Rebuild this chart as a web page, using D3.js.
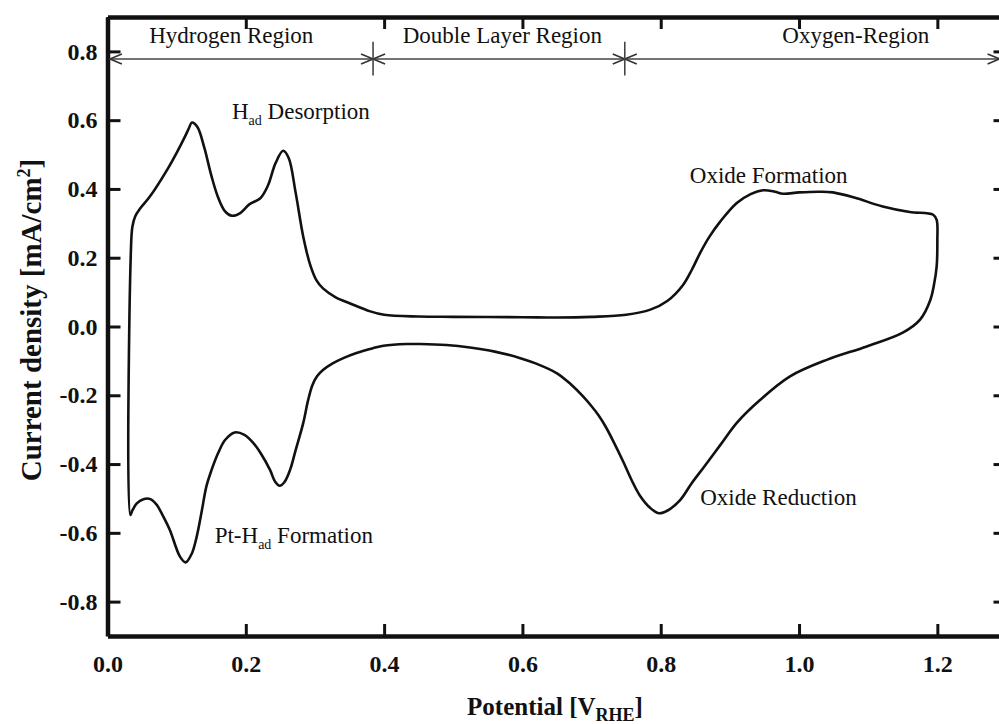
<!DOCTYPE html>
<html>
<head>
<meta charset="utf-8">
<script src="https://cdn.jsdelivr.net/npm/d3@7"></script>
<style>
  body { margin: 0; background: #fff; }
  svg { display: block; font-family: "Liberation Serif", "Times New Roman", serif; }
  .axis .domain { stroke: #111; stroke-width: 4.5px; }
  .axis .tick line { stroke: #111; stroke-width: 3px; }
  .axis .tick text { font-size: 24px; font-weight: bold; fill: #111; }
  .note { font-size: 23px; fill: #111; }
  .region-line { stroke: #444; stroke-width: 1.6px; fill: none; }
</style>
</head>
<body>
<div id="chart"></div>
<script>
// tick values
const xTicks = [0.0, 0.2, 0.4, 0.6, 0.8, 1.0, 1.2];
const yTicks = [-0.8, -0.6, -0.4, -0.2, 0.0, 0.2, 0.4, 0.6, 0.8];

// regions along the top
const regionNames = ['Hydrogen Region', 'Double Layer Region', 'Oxygen-Region'];
const regionEdges = [0.0035, 0.384, 0.748, 1.29];
const regionLabelX = [0.179, 0.571, 1.082];

// anodic sweep (potential V, current mA/cm2)
const anodicPotential = [0.034, 0.036, 0.040, 0.048, 0.061, 0.0875, 0.100, 0.112, 0.118, 0.122, 0.130, 0.140, 0.150, 0.160, 0.170, 0.180, 0.192, 0.205, 0.221, 0.232, 0.243, 0.254, 0.262, 0.272, 0.283, 0.293, 0.302, 0.312, 0.330, 0.351, 0.380, 0.400, 0.450, 0.500, 0.600, 0.650, 0.700, 0.750, 0.785, 0.810, 0.832, 0.845, 0.857, 0.870, 0.886, 0.910, 0.930, 0.948, 0.965, 0.977, 1.000, 1.030, 1.049, 1.080, 1.121, 1.160, 1.194, 1.199];
const anodicCurrent = [0.23, 0.29, 0.32, 0.345, 0.377, 0.46, 0.505, 0.552, 0.578, 0.593, 0.58, 0.52, 0.44, 0.375, 0.335, 0.322, 0.33, 0.355, 0.373, 0.41, 0.475, 0.511, 0.49, 0.39, 0.262, 0.18, 0.135, 0.110, 0.085, 0.067, 0.044, 0.034, 0.029, 0.028, 0.027, 0.026, 0.028, 0.034, 0.049, 0.075, 0.12, 0.165, 0.214, 0.26, 0.305, 0.359, 0.385, 0.396, 0.392, 0.386, 0.39, 0.392, 0.39, 0.375, 0.349, 0.333, 0.325, 0.31];

// cathodic sweep
const cathodicPotential = [1.200, 1.199, 1.195, 1.190, 1.175, 1.150, 1.098, 1.040, 0.987, 0.944, 0.910, 0.886, 0.862, 0.845, 0.828, 0.810, 0.797, 0.785, 0.770, 0.758, 0.746, 0.732, 0.720, 0.710, 0.700, 0.688, 0.670, 0.650, 0.620, 0.597, 0.560, 0.524, 0.490, 0.452, 0.433, 0.399, 0.384, 0.360, 0.341, 0.325, 0.312, 0.303, 0.296, 0.290, 0.283, 0.272, 0.264, 0.256, 0.249, 0.242, 0.235, 0.222, 0.211, 0.198, 0.184, 0.170, 0.160, 0.150, 0.143, 0.136, 0.129, 0.122, 0.113, 0.105, 0.090, 0.080, 0.071, 0.062, 0.052, 0.042, 0.036, 0.033];
const cathodicCurrent = [0.25, 0.174, 0.12, 0.078, 0.02, -0.018, -0.058, -0.097, -0.145, -0.213, -0.28, -0.345, -0.41, -0.455, -0.505, -0.535, -0.543, -0.528, -0.492, -0.447, -0.394, -0.336, -0.29, -0.258, -0.232, -0.204, -0.168, -0.136, -0.108, -0.092, -0.073, -0.061, -0.054, -0.051, -0.051, -0.056, -0.063, -0.077, -0.092, -0.108, -0.126, -0.145, -0.172, -0.215, -0.281, -0.36, -0.417, -0.452, -0.463, -0.45, -0.417, -0.37, -0.339, -0.315, -0.308, -0.33, -0.368, -0.42, -0.465, -0.54, -0.611, -0.66, -0.686, -0.67, -0.591, -0.55, -0.518, -0.502, -0.502, -0.515, -0.535, -0.548];

// annotations: [text, subscript, rest], position in data units
const noteParts = [['H', 'ad', ' Desorption'], ['Pt-H', 'ad', ' Formation'], ['Oxide Formation', '', ''], ['Oxide Reduction', '', '']];
const noteX = [0.180, 0.155, 0.842, 0.857];
const noteY = [0.604, -0.629, 0.418, -0.518];

//Set up DOM scaffolding
const width = 999;
const height = 724;
const svg = d3.select('#chart')
  .append('svg')
  .attr('width', width)
  .attr('height', height);

const scaleX = d3.scaleLinear().domain([0, 1.3]).range([107.5, 1006.5]);
const scaleY = d3.scaleLinear().domain([-0.9, 0.9]).range([636, 17]);

//Axes, ticks pointing inward on all four sides
const fmt = d => (+d).toFixed(1);
const axes = [
  svg.append('g').attr('class', 'axis')
    .attr('transform', `translate(0,${scaleY(-0.9)})`)
    .call(d3.axisBottom(scaleX).tickValues(xTicks).tickSizeInner(-12).tickSizeOuter(0).tickPadding(19).tickFormat(fmt)),
  svg.append('g').attr('class', 'axis')
    .attr('transform', `translate(0,${scaleY(0.9)})`)
    .call(d3.axisTop(scaleX).tickValues(xTicks).tickSizeInner(-12).tickSizeOuter(0).tickFormat('')),
  svg.append('g').attr('class', 'axis')
    .attr('transform', `translate(${scaleX(0)},0)`)
    .call(d3.axisLeft(scaleY).tickValues(yTicks).tickSizeInner(-13).tickSizeOuter(0).tickPadding(10).tickFormat(fmt)),
  svg.append('g').attr('class', 'axis')
    .attr('transform', `translate(${scaleX(1.3)},0)`)
    .call(d3.axisRight(scaleY).tickValues(yTicks).tickSizeInner(-13).tickSizeOuter(0).tickFormat(''))
];
// drop the axis' own sans-serif font so the serif from the stylesheet applies
axes.forEach(a => a.attr('font-family', null).attr('font-size', null));

//Region arrows
const defs = svg.append('defs');
defs.append('marker')
  .attr('id', 'chev')
  .attr('markerUnits', 'userSpaceOnUse')
  .attr('markerWidth', 16).attr('markerHeight', 14)
  .attr('refX', 13).attr('refY', 7)
  .attr('orient', 'auto-start-reverse')
  .append('path')
  .attr('d', 'M1,2 L13,7 L1,12')
  .attr('fill', 'none')
  .attr('stroke', '#333')
  .attr('stroke-width', 1.6);

const arrowY = 0.778;
regionNames.forEach((name, i) => {
  svg.append('line')
    .attr('class', 'region-line')
    .attr('x1', scaleX(regionEdges[i]))
    .attr('x2', scaleX(regionEdges[i + 1]))
    .attr('y1', scaleY(arrowY))
    .attr('y2', scaleY(arrowY))
    .attr('marker-start', 'url(#chev)')
    .attr('marker-end', 'url(#chev)');
  svg.append('text')
    .attr('class', 'note')
    .attr('text-anchor', 'middle')
    .attr('x', scaleX(regionLabelX[i]))
    .attr('y', scaleY(0.825))
    .text(name);
});
// separators between regions
svg.selectAll('.sep')
  .data(regionEdges.slice(1, 3))
  .enter().append('line')
  .attr('class', 'region-line')
  .attr('x1', d => scaleX(d)).attr('x2', d => scaleX(d))
  .attr('y1', scaleY(0.828)).attr('y2', scaleY(0.73));

//CV curve
const pts = anodicPotential.map((v, i) => [v, anodicCurrent[i]])
  .concat(cathodicPotential.map((v, i) => [v, cathodicCurrent[i]]));
const line = d3.line()
  .x(d => scaleX(d[0]))
  .y(d => scaleY(d[1]))
  .curve(d3.curveCatmullRomClosed.alpha(0.5));
svg.append('path')
  .datum(pts)
  .attr('d', line)
  .attr('fill', 'none')
  .attr('stroke', '#111')
  .attr('stroke-width', 2.6)
  .attr('stroke-linejoin', 'round');

//Annotations
noteParts.forEach((p, i) => {
  const t = svg.append('text')
    .attr('class', 'note')
    .attr('x', scaleX(noteX[i]))
    .attr('y', scaleY(noteY[i]));
  t.append('tspan').text(p[0]);
  if (p[1]) {
    t.append('tspan').attr('dy', 6).attr('font-size', 14).text(p[1]);
    t.append('tspan').attr('dy', -6).text(p[2]);
  }
});

//Axis titles
const xt = svg.append('text')
  .attr('text-anchor', 'middle')
  .attr('x', 555).attr('y', 715)
  .attr('font-size', 25).attr('font-weight', 'bold').attr('fill', '#111');
xt.append('tspan').text('Potential [V');
xt.append('tspan').attr('dy', 6).attr('font-size', 18).text('RHE');
xt.append('tspan').attr('dy', -6).text(']');

const yt = svg.append('text')
  .attr('text-anchor', 'middle')
  .attr('transform', 'translate(41,320) rotate(-90)')
  .attr('font-size', 29).attr('font-weight', 'bold').attr('fill', '#111');
yt.append('tspan').text('Current density [mA/cm');
yt.append('tspan').attr('dy', -11).attr('font-size', 18).text('2');
yt.append('tspan').attr('dy', 11).text(']');
</script>
</body>
</html>
